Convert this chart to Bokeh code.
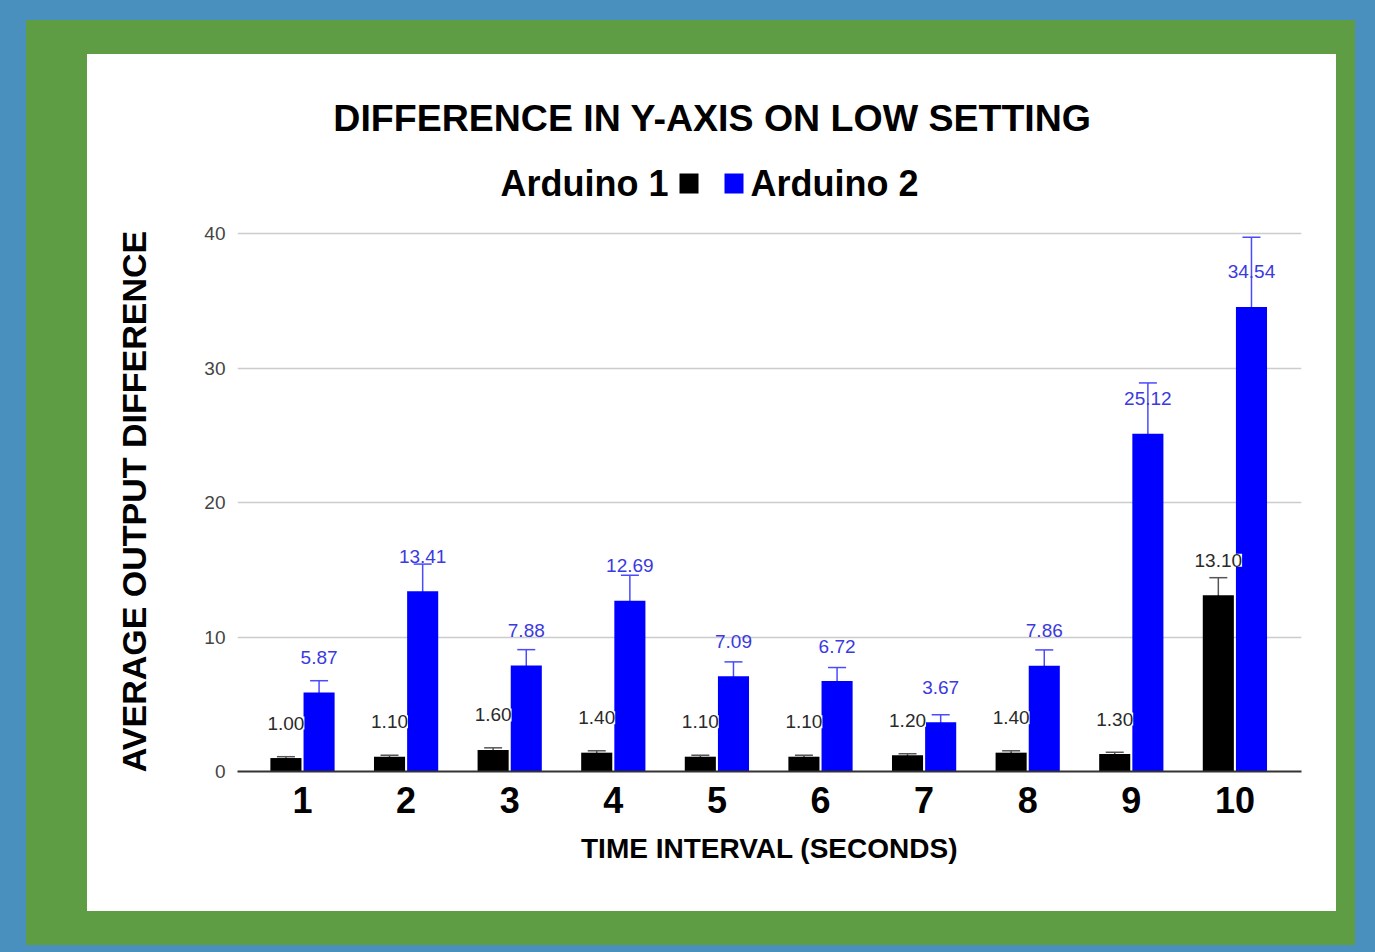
from bokeh.plotting import figure
from bokeh.layouts import column
from bokeh.models import (ColumnDataSource, Range1d, FixedTicker, LabelSet, Whisker,
                          TeeHead, GlobalInlineStyleSheet)
from bokeh.core.properties import value
from bokeh.embed import file_html
from bokeh.resources import INLINE

# ---------------- data ----------------
intervals = [1, 2, 3, 4, 5, 6, 7, 8, 9, 10]
tick_labels = ["1", "2", "3", "4", "5", "6", "7", "8", "9", "10"]
series_names = ["Arduino 1", "Arduino 2"]
arduino1 = [1.00, 1.10, 1.60, 1.40, 1.10, 1.10, 1.20, 1.40, 1.30, 13.10]
arduino2 = [5.87, 13.41, 7.88, 12.69, 7.09, 6.72, 3.67, 7.86, 25.12, 34.54]
arduino1_err = [0.10, 0.11, 0.16, 0.14, 0.11, 0.11, 0.12, 0.14, 0.13, 1.31]
arduino2_err = [0.88, 2.01, 1.18, 1.90, 1.06, 1.01, 0.55, 1.18, 3.77, 5.18]
y_ticks = [0, 10, 20, 30, 40]
title_text = "DIFFERENCE IN Y-AXIS ON LOW SETTING"
x_title = "TIME INTERVAL (SECONDS)"
y_title = "AVERAGE OUTPUT DIFFERENCE"

# ---------------- styling ----------------
BLUE_BG = "#4a90bf"
GREEN = "#5f9d44"
BAR1 = "#000000"
BAR2 = "#0000ff"
SANS = "Liberation Sans"

W = 1249
HEAD_H = 165
MAIN_H = 857 - HEAD_H
UNIT = 103.6
x0 = 1 - 65 / UNIT
x1 = x0 + 1064 / UNIT
PX_Y = 538 / 40.0
xr = Range1d(x0, x1)


def dx(px):  # page px -> data x (shared horizontal scale)
    return 1 + (px - 302) / UNIT


def hy(py):  # page px -> header y (header y runs downward)
    return py - 54


# ---------------- header (title + legend) ----------------
head = figure(width=W, height=HEAD_H, x_range=xr, y_range=Range1d(HEAD_H, 0),
              min_border_left=150, min_border_right=35, min_border_top=0,
              min_border_bottom=0, x_axis_location=None, y_axis_location=None,
              toolbar_location=None, output_backend="svg")
head.outline_line_color = None
head.grid.visible = False
head.background_fill_color = "white"
head.border_fill_color = "white"

head.text(x=[dx(712)], y=[hy(117)], text=[title_text], text_align="center",
          text_baseline="middle", text_font=value(SANS), text_font_style="bold",
          text_font_size="37.5px", text_color="black")
head.text(x=[dx(668)], y=[hy(183)], text=[series_names[0]], text_align="right",
          text_baseline="middle", text_font=value(SANS), text_font_style="bold",
          text_font_size="36px", text_color="black")
head.text(x=[dx(750)], y=[hy(183)], text=[series_names[1]], text_align="left",
          text_baseline="middle", text_font=value(SANS), text_font_style="bold",
          text_font_size="36px", text_color="black")
head.quad(left=[dx(679), dx(724)], right=[dx(698), dx(743)],
          top=[hy(173), hy(173)], bottom=[hy(193), hy(193)],
          fill_color=[BAR1, BAR2], line_color=None)

# ---------------- main chart ----------------
off = 0.16
src = ColumnDataSource(dict(
    x=intervals,
    xa=[i - off for i in intervals],
    xb=[i + off for i in intervals],
    a1=arduino1, a2=arduino2,
    a1_lo=[v - e for v, e in zip(arduino1, arduino1_err)],
    a1_hi=[v + e for v, e in zip(arduino1, arduino1_err)],
    a2_lo=[v - e for v, e in zip(arduino2, arduino2_err)],
    a2_hi=[v + e for v, e in zip(arduino2, arduino2_err)],
    t1=["%.2f" % v for v in arduino1],
    t2=["%.2f" % v for v in arduino2],
))

# frame top sits 2px above the 40 gridline so the line is not clipped
p = figure(width=W, height=MAIN_H, x_range=xr, y_range=Range1d(0, 40 + 2 / PX_Y),
           min_border_left=150, min_border_right=35, min_border_top=231 - 54 - HEAD_H,
           min_border_bottom=140, output_backend="svg", toolbar_location=None)
p.background_fill_color = "white"
p.border_fill_color = "white"
p.outline_line_color = None

p.vbar(x="xa", top="a1", width=0.30, source=src, fill_color=BAR1, line_color=None)
p.vbar(x="xb", top="a2", width=0.30, source=src, fill_color=BAR2, line_color=None)

lab1 = LabelSet(x="xa", y="a1", text="t1", source=src, y_offset=35,
                text_align="center", text_baseline="middle",
                text_font=value(SANS), text_font_size="19px", text_color="#2a2a2a",
                background_fill_color="white")
lab2 = LabelSet(x="xb", y="a2", text="t2", source=src, y_offset=35,
                text_align="center", text_baseline="middle",
                text_font=value(SANS), text_font_size="19px", text_color="#3a3ae0")
p.add_layout(lab1)
p.add_layout(lab2)

w1 = Whisker(source=src, base="xa", upper="a1_hi", lower="a1_lo",
             line_color="#555555", line_width=1.5,
             upper_head=TeeHead(size=18, line_color="#555555", line_width=1.5),
             lower_head=TeeHead(size=18, line_color="#555555", line_width=1.5))
w2 = Whisker(source=src, base="xb", upper="a2_hi", lower="a2_lo",
             line_color="#4a4aff", line_width=1.5,
             upper_head=TeeHead(size=18, line_color="#4a4aff", line_width=1.5),
             lower_head=TeeHead(size=18, line_color="#4a4aff", line_width=1.5))
p.add_layout(w1)
p.add_layout(w2)

# axes
p.xaxis.ticker = FixedTicker(ticks=intervals)
p.xaxis.major_label_overrides = {i: s for i, s in zip(intervals, tick_labels)}
p.xaxis.major_label_text_font = SANS
p.xaxis.major_label_text_font_style = "bold"
p.xaxis.major_label_text_font_size = "36px"
p.xaxis.major_label_text_color = "black"
p.xaxis.major_label_standoff = 9
p.xaxis.major_tick_line_color = None
p.xaxis.minor_tick_line_color = None
p.xaxis.axis_line_color = "#333333"
p.xaxis.axis_line_width = 2
p.xaxis.axis_label = x_title
p.xaxis.axis_label_text_font = SANS
p.xaxis.axis_label_text_font_style = "bold"
p.xaxis.axis_label_text_font_size = "28px"
p.xaxis.axis_label_text_color = "black"
p.xaxis.axis_label_standoff = 17

p.yaxis.ticker = FixedTicker(ticks=y_ticks)
p.yaxis.major_label_text_font = SANS
p.yaxis.major_label_text_font_size = "19px"
p.yaxis.major_label_text_color = "#444444"
p.yaxis.major_label_standoff = 6
p.yaxis.major_tick_line_color = None
p.yaxis.minor_tick_line_color = None
p.yaxis.axis_line_color = None
p.yaxis.axis_label = y_title
p.yaxis.axis_label_text_font = SANS
p.yaxis.axis_label_text_font_style = "bold"
p.yaxis.axis_label_text_font_size = "34px"
p.yaxis.axis_label_text_color = "black"
p.yaxis.axis_label_standoff = 48

p.xgrid.grid_line_color = None
p.ygrid.grid_line_color = "#cccccc"
p.ygrid.grid_line_width = 1.5

page = column(head, p, spacing=0, margin=(54, 0, 0, 87),
              styles={"background-color": "white",
                      "box-shadow": f"-27px 0 0 34px {GREEN}, -15px 0 0 34px {GREEN}"},
              stylesheets=[GlobalInlineStyleSheet(
                  css=f"html, body {{ margin: 0; background-color: {BLUE_BG}; }}")])

open("out.html", "w").write(file_html(page, INLINE))
